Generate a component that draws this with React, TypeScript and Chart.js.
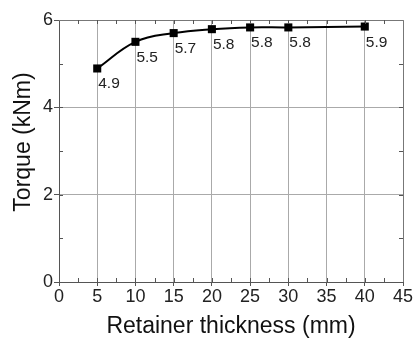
import React, { useEffect, useRef } from "react";
import { Chart, registerables } from "chart.js";

Chart.register(...registerables);

const thickness = [5, 10, 15, 20, 25, 30, 40];
const torque = [4.89, 5.5, 5.7, 5.79, 5.83, 5.83, 5.85];
const pointLabels = ["4.9", "5.5", "5.7", "5.8", "5.8", "5.8", "5.9"];
const xTitle = "Retainer thickness (mm)";
const yTitle = "Torque (kNm)";

const FONT = "'Liberation Sans', Arial, sans-serif";

const framePlugin = {
  id: "frame",
  afterDatasetsDraw(chart: any) {
    const { ctx, chartArea, scales } = chart;
    const { left, right, top, bottom } = chartArea;
    ctx.save();
    ctx.strokeStyle = "#777";
    ctx.lineWidth = 1;
    ctx.beginPath();
    ctx.moveTo(left, top + 0.5);
    ctx.lineTo(right + 0.5, top + 0.5);
    ctx.lineTo(right + 0.5, bottom);
    ctx.stroke();
    ctx.strokeStyle = "#555";
    ctx.beginPath();
    const xs = scales.x;
    for (let v = 2.5; v < 45; v += 2.5) {
      const px = Math.round(xs.getPixelForValue(v)) + 0.5;
      ctx.moveTo(px, bottom);
      ctx.lineTo(px, bottom - 4);
      ctx.moveTo(px, top);
      ctx.lineTo(px, top + 4);
    }
    const ys = scales.y;
    for (let v = 1; v < 6; v += 1) {
      const py = Math.round(ys.getPixelForValue(v)) + 0.5;
      ctx.moveTo(left, py);
      ctx.lineTo(left + 4, py);
      ctx.moveTo(right, py);
      ctx.lineTo(right - 4, py);
    }
    ctx.stroke();

    ctx.fillStyle = "#111";
    ctx.font = `23px ${FONT}`;
    ctx.textAlign = "center";
    ctx.textBaseline = "alphabetic";
    ctx.fillText(xTitle, (left + right) / 2, 333);
    ctx.save();
    ctx.translate(30, 142);
    ctx.rotate(-Math.PI / 2);
    ctx.fillText(yTitle, 0, 0);
    ctx.restore();
    ctx.restore();
  },
};

const labelPlugin = {
  id: "pointLabels",
  afterDatasetsDraw(chart: any) {
    const { ctx } = chart;
    const meta = chart.getDatasetMeta(0);
    ctx.save();
    ctx.fillStyle = "#222";
    ctx.font = `15.5px ${FONT}`;
    ctx.textAlign = "left";
    ctx.textBaseline = "alphabetic";
    meta.data.forEach((el: any, i: number) => {
      ctx.fillText(pointLabels[i], el.x + 1, el.y + 20);
    });
    ctx.restore();
  },
};

export default function App() {
  const ref = useRef<HTMLCanvasElement>(null);
  useEffect(() => {
    if (!ref.current) return;
    const chart = new Chart(ref.current, {
      type: "line",
      data: {
        datasets: [
          {
            data: thickness.map((x, i) => ({ x, y: torque[i] })),
            borderColor: "#000",
            backgroundColor: "#000",
            borderWidth: 2,
            pointStyle: "rect",
            pointRadius: 5.7,
            pointBorderWidth: 0,
            tension: 0.4,
          },
        ],
      },
      options: {
        animation: false,
        responsive: false,
        maintainAspectRatio: false,
        layout: { padding: { top: 20, right: 12, left: 0, bottom: 0 } },
        plugins: { legend: { display: false }, tooltip: { enabled: false } },
        scales: {
          x: {
            type: "linear",
            min: 0,
            max: 45,
            ticks: {
              stepSize: 5,
              color: "#222",
              font: { family: FONT, size: 18 },
              padding: 0,
              maxRotation: 0,
              autoSkip: false,
            },
            grid: {
              color: (c: any) => (c.tick && c.tick.value > 0 ? "#aaa" : "transparent"),
              lineWidth: 1,
              tickLength: 4,
              tickColor: "#555",
            },
            border: { display: true, color: "#555", width: 1 },
            afterFit: (s: any) => {
              s.height = 56;
            },
          },
          y: {
            type: "linear",
            min: 0,
            max: 6,
            ticks: {
              stepSize: 1,
              color: "#222",
              font: { family: FONT, size: 18 },
              padding: 1,
              callback: (v: any) => (Number(v) % 2 === 0 ? String(v) : ""),
            },
            grid: {
              color: (c: any) =>
                c.tick && c.tick.value % 2 === 0 && c.tick.value > 0 ? "#aaa" : "transparent",
              lineWidth: 1,
              tickLength: 5,
              tickColor: (c: any) => (c.tick && c.tick.value % 2 === 0 ? "#555" : "transparent"),
            },
            border: { display: true, color: "#555", width: 1 },
            afterFit: (s: any) => {
              s.width = 59;
            },
          },
        },
      },
      plugins: [framePlugin, labelPlugin],
    } as any);
    return () => chart.destroy();
  }, []);
  return (
    <div style={{ position: "fixed", left: 0, top: 0, width: 415, height: 338, background: "#fff" }}>
      <canvas ref={ref} width={415} height={338} style={{ width: 415, height: 338 }} />
    </div>
  );
}
